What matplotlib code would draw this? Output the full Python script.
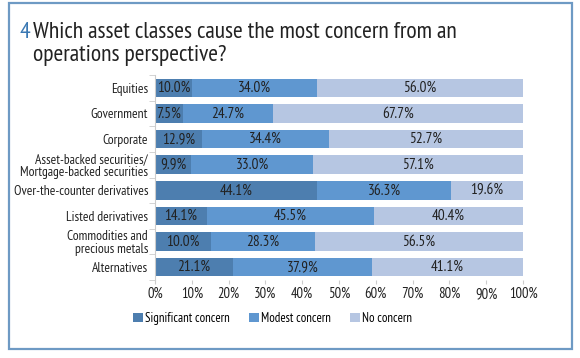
import matplotlib.pyplot as plt
from matplotlib.patches import Rectangle
import numpy as np

plt.rcParams['font.family'] = ['PT Sans Narrow', 'DejaVu Sans']

categories = ["Equities", "Government", "Corporate",
              "Asset-backed securities/\nMortgage-backed securities",
              "Over-the-counter derivatives", "Listed derivatives",
              "Commodities and\nprecious metals", "Alternatives"]
# widths as drawn in the picture (the commodities bar is drawn to 100%)
significant = [10.0, 7.5, 12.9, 9.9, 44.1, 14.1, 15.2, 21.1]
modest = [34.0, 24.7, 34.4, 33.0, 36.3, 45.5, 28.3, 37.9]
no_concern = [56.0, 67.7, 52.7, 57.1, 19.6, 40.4, 56.5, 41.1]
# printed labels
significant_labels = ["10.0%", "7.5%", "12.9%", "9.9%", "44.1%", "14.1%", "10.0%", "21.1%"]
series_names = ["Significant concern", "Modest concern", "No concern"]
colors = ["#4d7eaf", "#5f97d0", "#b6c6e2"]
xticks = [0, 10, 20, 30, 40, 50, 60, 70, 80, 90, 100]

fig = plt.figure(figsize=(5.8, 3.58), dpi=100)
fig.patches.append(Rectangle((9 / 580, 1 - 349 / 358), 563 / 580, 346 / 358,
                             transform=fig.transFigure, fill=False,
                             edgecolor="#6e9ac4", linewidth=1.6))

fig.text(20 / 580, 1 - 33 / 358, "4", color="#3a78b3", fontsize=17, va="center")
fig.text(33 / 580, 1 - 33 / 358, "Which asset classes cause the most concern from an",
         color="#222222", fontsize=17, va="center")
fig.text(33 / 580, 1 - 55 / 358, "operations perspective?",
         color="#222222", fontsize=17, va="center")

ax = fig.add_axes([155 / 580, 1 - 280 / 358, 368 / 580, 205 / 358])
y = np.arange(len(categories))
left = np.zeros(len(categories))
all_labels = [significant_labels,
              [f"{v:.1f}%" for v in modest],
              [f"{v:.1f}%" for v in no_concern]]
for vals, labs, name, col in zip([significant, modest, no_concern], all_labels,
                                 series_names, colors):
    vals = np.array(vals)
    ax.barh(y, vals, left=left, height=0.72, color=col, label=name)
    for yi, l, v, lab in zip(y, left, vals, labs):
        ax.text(l + v / 2, yi, lab, ha="center", va="center",
                fontsize=11, color="#222222")
    left += vals

ax.set_xlim(0, 100)
ax.set_ylim(len(categories) - 0.5, -0.5)
ax.set_yticks(y)
ax.set_yticklabels(categories, fontsize=9.7, color="#222222", linespacing=0.95)
ax.set_yticks(np.arange(len(categories) + 1) - 0.5, minor=True)
ax.tick_params(axis="y", which="major", length=0, pad=5)
ax.tick_params(axis="y", which="minor", length=4, color="#cccccc")
ax.set_xticks(xticks)
ax.set_xticklabels([f"{t}%" for t in xticks], fontsize=10.5, color="#222222")
ax.tick_params(axis="x", length=3, color="#cccccc", pad=2)
for s in ["top", "right", "bottom"]:
    ax.spines[s].set_visible(False)
ax.spines["left"].set_color("#cccccc")

ax.legend(loc="upper center", bbox_to_anchor=(0.32, -0.1), ncol=3, frameon=False,
          fontsize=9.2, handlelength=0.75, handleheight=0.75, handletextpad=0.2,
          columnspacing=1.5)

fig.savefig("out.png", dpi=100)
